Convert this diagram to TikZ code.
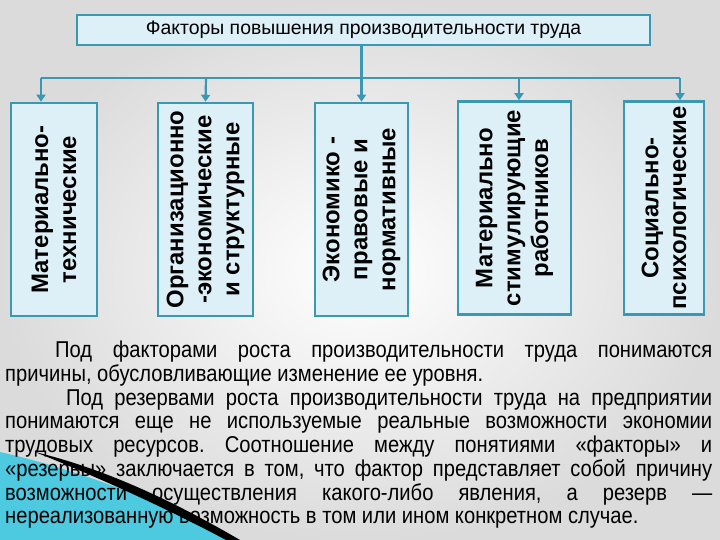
\documentclass[tikz,border=0pt]{standalone}
\usepackage{fontspec}
\setmainfont{Liberation Sans}
\newfontfamily\narrowfont[FakeStretch=0.88]{Liberation Sans}
\usetikzlibrary{arrows.meta}
\definecolor{teal1}{HTML}{3A98B2}
\definecolor{fill1}{HTML}{DDF0F7}
\definecolor{blu}{HTML}{2E9FC8}
\tikzset{
 fbox/.style={draw=teal1,line width=2.6pt,fill=fill1,minimum height=213bp,inner sep=0pt},
 vtext/.style={rotate=90,align=center,font=\bfseries\fontsize{24}{28}\selectfont},
 conn/.style={draw=teal1,line width=2.2pt},
 arr/.style={conn,-{Triangle[length=7bp,width=9bp]}}
}
\begin{document}
\frenchspacing
\begin{tikzpicture}[x=1bp,y=-1bp]
\useasboundingbox (0,0) rectangle (720,540);
\shade[inner color=white,outer color=black!14] (0,0) rectangle (720,540);
% decoration
\fill[blu!70!cyan!80!white] (0,452) .. controls (80,470) and (170,505) .. (232,540) -- (0,540) -- cycle;
\fill[black] (35,452) .. controls (110,470) and (180,505) .. (240,540) -- (226,540) .. controls (170,510) and (100,478) .. (35,452) -- cycle;
% title
\node[draw=teal1,line width=2.6pt,fill=fill1,minimum width=573bp,minimum height=30bp,inner sep=0pt,font=\fontsize{19.5}{22}\selectfont] (t) at (363.5,30) {Факторы повышения производительности труда};
\coordinate (hl) at (41,78);
\coordinate (hr) at (680,78);
\draw[conn] (hl) -- (hr);
\node[fbox,minimum width=86bp] (b1) at (54,209.5) {};
\node[fbox,minimum width=95bp] (b2) at (205.5,209.5) {};
\node[fbox,minimum width=93bp] (b3) at (361.5,209.5) {};
\node[fbox,minimum width=113bp] (b4) at (514.5,208) {};
\node[fbox,minimum width=80bp] (b5) at (664,208) {};
\node[vtext] at (b1) {Материально-\\технические};
\node[vtext] at (b2) {Организационно\\-экономические\\и структурные};
\node[vtext] at (b3) {Экономико -\\правовые и\\нормативные};
\node[vtext] at (b4) {Материально\\стимулирующие\\работников};
\node[vtext] at (b5) {Социально-\\психологические};
\draw[arr] (hl) -- (b1.north-|hl);
\draw[arr] (206,78) -- (b2.north);
\draw[arr] (t.south-|b3) -- (b3.north);
\draw[arr] (519,78) -- (b4.north-|519,0);
\draw[arr] (hr) -- (b5.north-|hr);
% text
\node[anchor=north west,text width=707bp,align=justify,inner sep=0pt,font=\narrowfont\fontsize{23}{23.8}\selectfont] (txt) at (5,341) {\hspace*{50bp}Под факторами роста производительности труда понимаются\linebreak причины, обусловливающие изменение ее уровня.\par
\hspace*{61bp}Под резервами роста производительности труда на предприятии\linebreak понимаются еще не используемые реальные возможности экономии\linebreak трудовых ресурсов. Соотношение между понятиями «факторы» и\linebreak «резервы» заключается в том, что фактор представляет собой причину\linebreak возможности осуществления какого-либо явления, а резерв —\linebreak нереализованную возможность в том или ином конкретном случае.};
\end{tikzpicture}
\end{document}
